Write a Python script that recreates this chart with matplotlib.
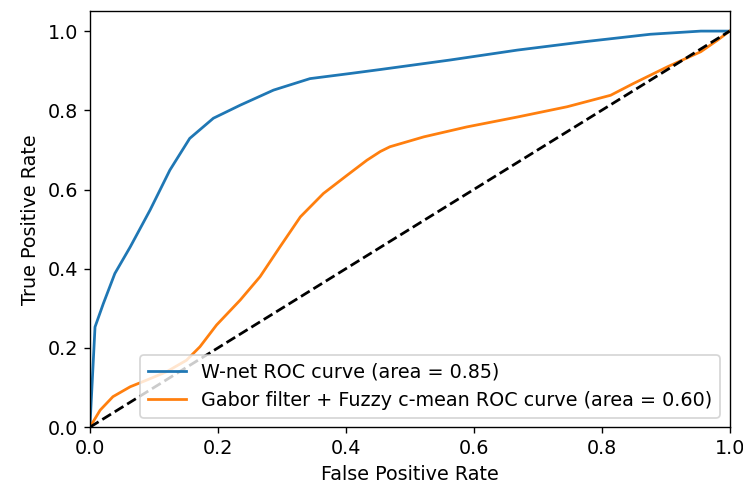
import matplotlib
matplotlib.use("Agg")
import matplotlib.pyplot as plt

wnet_fpr = [0.0, 0.008, 0.021, 0.039, 0.063, 0.094, 0.125, 0.156, 0.193, 0.235, 0.287, 0.344,
            0.407, 0.454, 0.563, 0.668, 0.772, 0.876, 0.955, 1.0]
wnet_tpr = [0.0, 0.253, 0.312, 0.388, 0.455, 0.548, 0.649, 0.729, 0.780, 0.813, 0.851, 0.880,
            0.893, 0.903, 0.927, 0.952, 0.973, 0.992, 1.0, 1.0]

gabor_fpr = [0.0, 0.016, 0.036, 0.063, 0.089, 0.120, 0.151, 0.172, 0.198, 0.235, 0.266, 0.297,
             0.329, 0.365, 0.402, 0.433, 0.454, 0.469, 0.522, 0.589, 0.668, 0.746, 0.814,
             0.850, 0.903, 0.955, 0.981, 1.0]
gabor_tpr = [0.0, 0.043, 0.077, 0.102, 0.119, 0.140, 0.169, 0.203, 0.258, 0.321, 0.380, 0.455,
             0.531, 0.590, 0.636, 0.674, 0.696, 0.708, 0.733, 0.758, 0.783, 0.809, 0.838,
             0.868, 0.910, 0.948, 0.977, 1.0]

wnet_auc = 0.85
gabor_auc = 0.60

plt.rcParams["font.size"] = 11.1

fig = plt.figure(figsize=(743 / 124, 491 / 124), dpi=124)
fig.subplots_adjust(left=0.121, right=0.982, top=0.977, bottom=0.130)
ax = fig.add_subplot(111)
ax.plot(wnet_fpr, wnet_tpr, lw=1.6, label="W-net ROC curve (area = %0.2f)" % wnet_auc)
ax.plot(gabor_fpr, gabor_tpr, lw=1.6,
        label="Gabor filter + Fuzzy c-mean ROC curve (area = %0.2f)" % gabor_auc)
ax.plot([0, 1], [0, 1], "k--", lw=1.6)
ax.set_xlim([0.0, 1.0])
ax.set_ylim([0.0, 1.05])
ax.set_xlabel("False Positive Rate")
ax.set_ylabel("True Positive Rate")
ax.legend(loc="lower right")
fig.savefig("out.png", dpi=124)
